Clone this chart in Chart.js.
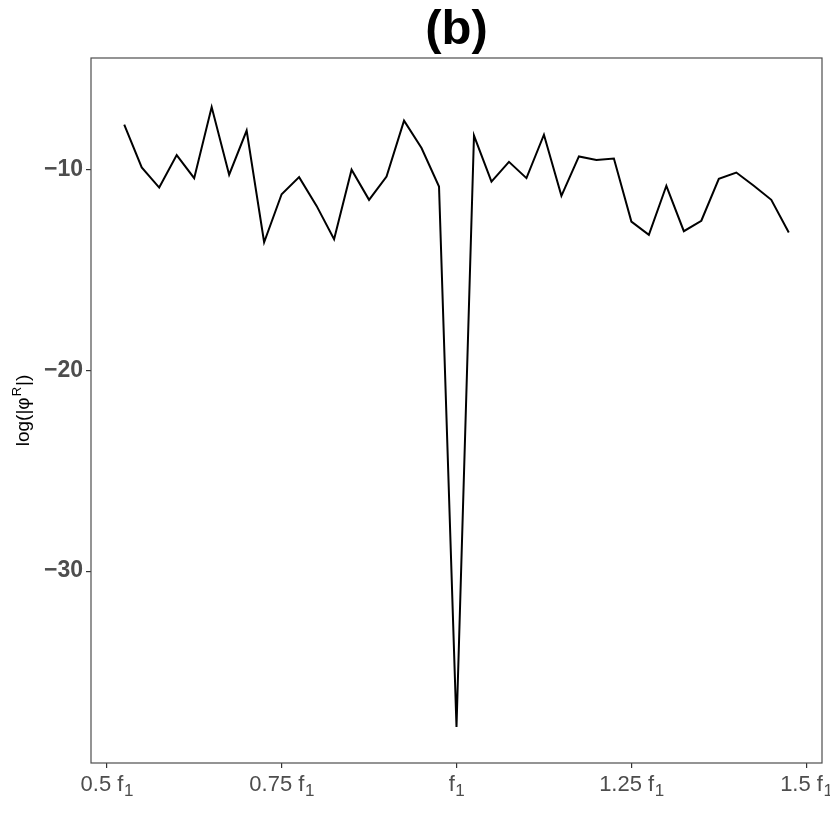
<!DOCTYPE html>
<html>
<head>
<meta charset="utf-8">
<script src="https://cdn.jsdelivr.net/npm/chart.js@4"></script>
<style>
  html, body { margin: 0; padding: 0; background: #fff; }
  #wrap { width: 830px; height: 830px; }
</style>
</head>
<body>
<div id="wrap"><canvas id="chart" width="830" height="830"></canvas></div>
<script>
// frequency (in units of f1) and log(|phi^R|)
const freqs = [0.525, 0.55, 0.575, 0.6, 0.625, 0.65, 0.675, 0.7, 0.725, 0.75,
  0.775, 0.8, 0.825, 0.85, 0.875, 0.9, 0.925, 0.95, 0.975, 1.0,
  1.025, 1.05, 1.075, 1.1, 1.125, 1.15, 1.175, 1.2, 1.225, 1.25,
  1.275, 1.3, 1.325, 1.35, 1.375, 1.4, 1.425, 1.45, 1.475];
const logPhi = [-7.78, -9.91, -10.91, -9.29, -10.44, -6.90, -10.27, -8.07, -13.63, -11.24,
  -10.39, -11.82, -13.48, -10.02, -11.52, -10.36, -7.58, -8.94, -10.86, -37.76,
  -8.32, -10.61, -9.63, -10.44, -8.28, -11.32, -9.36, -9.54, -9.46, -12.60,
  -13.26, -10.82, -13.08, -12.56, -10.47, -10.16, -10.82, -11.52, -13.15];
const xTicks = [0.5, 0.75, 1, 1.25, 1.5];
const xTickLabels = ['0.5 f', '0.75 f', 'f', '1.25 f', '1.5 f'];   // each followed by subscript 1
const yTicks = [-30, -20, -10];

const FONT = 'Liberation Sans, Arial, sans-serif';

// panel border, title, x labels with subscripts, y title with superscript
const decorations = {
  id: 'decorations',
  afterDraw(chart) {
    const a = chart.chartArea;
    const c = chart.ctx;
    const xs = chart.scales.x;
    c.save();
    c.strokeStyle = '#4d4d4d';
    c.lineWidth = 1.2;
    c.strokeRect(a.left, a.top, a.right - a.left, a.bottom - a.top);

    // title
    c.fillStyle = '#000';
    c.font = 'bold 49px ' + FONT;
    c.textAlign = 'center';
    c.textBaseline = 'alphabetic';
    c.fillText('(b)', (a.left + a.right) / 2, 44);

    // x tick labels: "0.75 f" + subscript "1"
    c.fillStyle = '#4d4d4d';
    xTicks.forEach((v, i) => {
      c.font = '22px ' + FONT;
      const main = xTickLabels[i];
      const wMain = c.measureText(main).width;
      c.font = '17px ' + FONT;
      const wSub = c.measureText('1').width;
      const x0 = xs.getPixelForValue(v) - (wMain + wSub) / 2;
      c.textAlign = 'left';
      c.font = '22px ' + FONT;
      c.fillText(main, x0, a.bottom + 28);
      c.font = '17px ' + FONT;
      c.fillText('1', x0 + wMain + 0.5, a.bottom + 32.5);
    });

    // y axis title: log(|phi^R|), rotated
    c.fillStyle = '#000';
    c.translate(29, (a.top + a.bottom) / 2);
    c.rotate(-Math.PI / 2);
    c.font = '19px ' + FONT;
    const p1 = 'log(|\u03c6', p2 = '|)';
    const w1 = c.measureText(p1).width, w2 = c.measureText(p2).width;
    c.font = '13px ' + FONT;
    const wR = c.measureText('R').width;
    let x = -(w1 + wR + w2 + 2) / 2;
    c.textAlign = 'left';
    c.font = '19px ' + FONT;
    c.fillText(p1, x, 0);
    x += w1 + 1;
    c.font = '13px ' + FONT;
    c.fillText('R', x, -8);
    x += wR + 1;
    c.font = '19px ' + FONT;
    c.fillText(p2, x, 0);
    c.restore();
  }
};

new Chart(document.getElementById('chart').getContext('2d'), {
  type: 'line',
  data: {
    datasets: [{
      data: freqs.map((f, i) => ({ x: f, y: logPhi[i] })),
      borderColor: '#000',
      borderWidth: 2,
      pointRadius: 0,
      tension: 0,
      fill: false
    }]
  },
  options: {
    responsive: false,
    animation: false,
    layout: { padding: { top: 58, right: 8, bottom: 0, left: 0 } },
    plugins: {
      legend: { display: false },
      tooltip: { enabled: false },
      title: { display: false }
    },
    scales: {
      x: {
        type: 'linear',
        min: 0.4775,
        max: 1.5225,
        afterBuildTicks: s => { s.ticks = xTicks.map(v => ({ value: v })); },
        afterFit: s => { s.height = 67; },
        grid: { drawOnChartArea: false, drawTicks: true, tickLength: 5, color: '#333', lineWidth: 1.2 },
        border: { display: false },
        ticks: {
          maxRotation: 0,
          font: { family: FONT, size: 21 },
          callback: () => ''
        }
      },
      y: {
        min: -39.55,
        max: -4.46,
        afterBuildTicks: s => { s.ticks = yTicks.map(v => ({ value: v })); },
        afterFit: s => { s.width = 91; },
        grid: { drawOnChartArea: false, drawTicks: true, tickLength: 5, color: '#333', lineWidth: 1.2 },
        border: { display: false },
        ticks: {
          color: '#4d4d4d',
          padding: 3,
          font: { family: FONT, size: 23, weight: 'bold' },
          callback: v => '\u2212' + Math.abs(v)
        }
      }
    }
  },
  plugins: [decorations]
});
</script>
</body>
</html>
